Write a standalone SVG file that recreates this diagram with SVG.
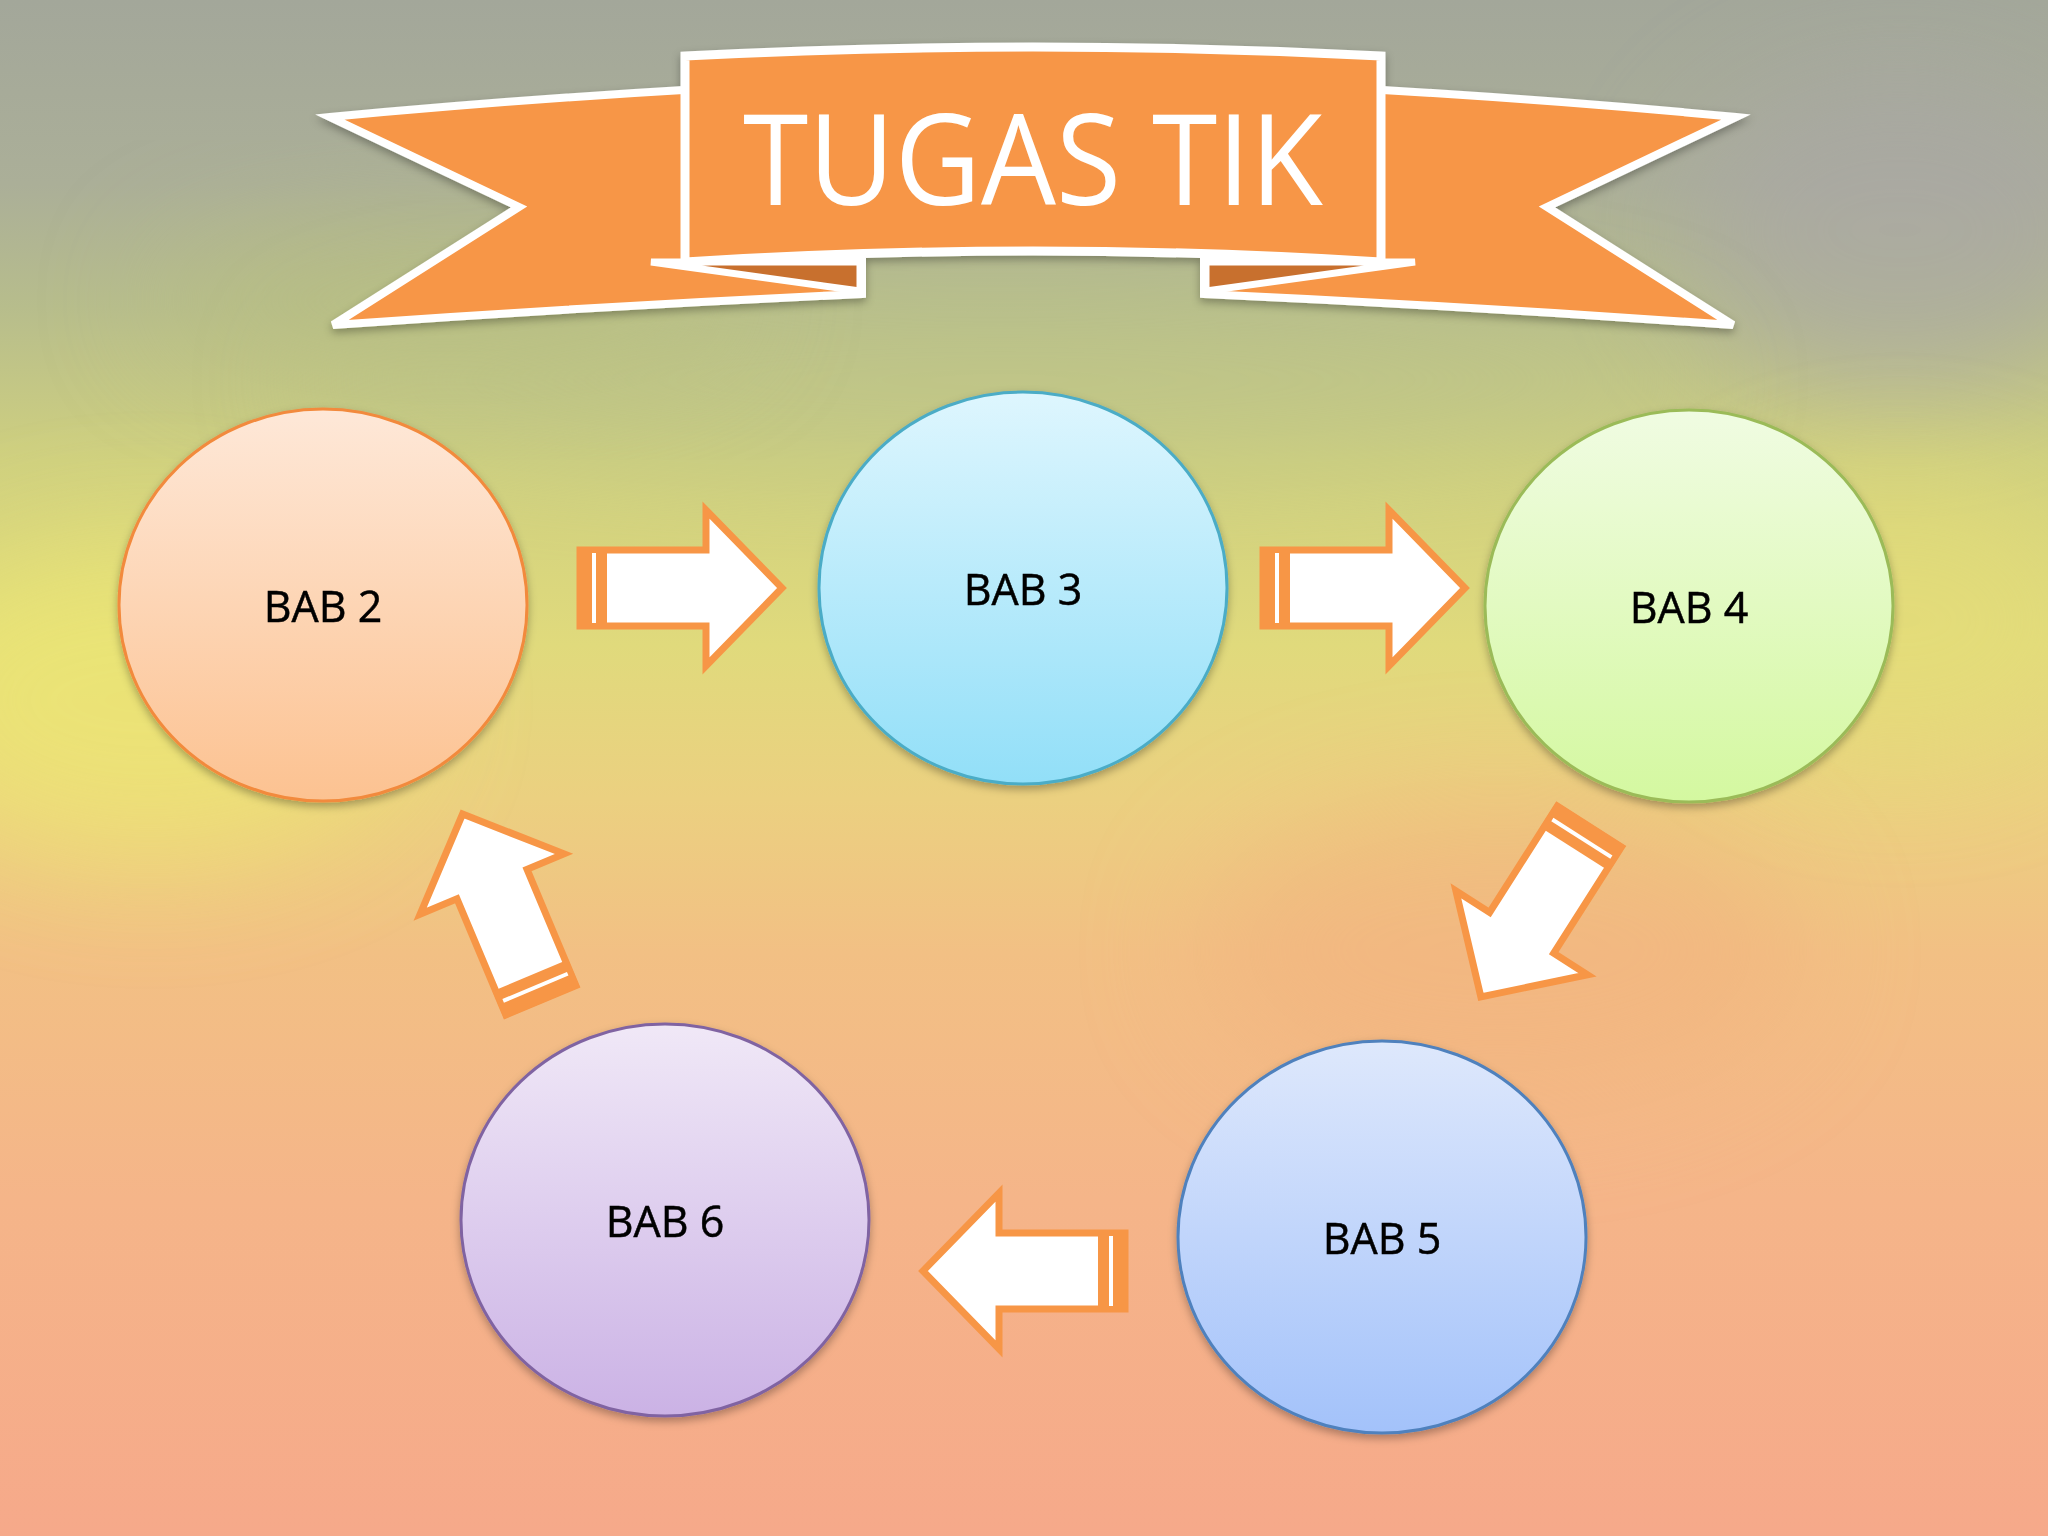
<svg xmlns="http://www.w3.org/2000/svg" width="2048" height="1536" viewBox="0 0 2048 1536">
<defs>
<linearGradient id="bg" x1="0" y1="0" x2="0" y2="1">
<stop offset="0" stop-color="#A3A79A"/>
<stop offset="0.12" stop-color="#ABAF98"/>
<stop offset="0.2" stop-color="#B7BD8C"/>
<stop offset="0.3" stop-color="#CFD07F"/>
<stop offset="0.42" stop-color="#E0DA7C"/>
<stop offset="0.52" stop-color="#EBD080"/>
<stop offset="0.62" stop-color="#F2C084"/>
<stop offset="0.78" stop-color="#F5B589"/>
<stop offset="1" stop-color="#F6A98A"/>
</linearGradient>
<filter id="blur" x="-50%" y="-50%" width="200%" height="200%"><feGaussianBlur stdDeviation="60"/></filter>
<filter id="shadow" x="-20%" y="-20%" width="140%" height="140%"><feDropShadow dx="0" dy="4" stdDeviation="4" flood-color="#000" flood-opacity="0.3"/></filter>
<linearGradient id="g2" x1="0" y1="0" x2="0" y2="1"><stop offset="0" stop-color="#FEE8D8"/><stop offset="1" stop-color="#FCC291"/></linearGradient>
<linearGradient id="g3" x1="0" y1="0" x2="0" y2="1"><stop offset="0" stop-color="#DEF6FE"/><stop offset="1" stop-color="#92DFF8"/></linearGradient>
<linearGradient id="g4" x1="0" y1="0" x2="0" y2="1"><stop offset="0" stop-color="#F0FCE2"/><stop offset="1" stop-color="#D4F8A0"/></linearGradient>
<linearGradient id="g5" x1="0" y1="0" x2="0" y2="1"><stop offset="0" stop-color="#DEE8FC"/><stop offset="1" stop-color="#A3C2FA"/></linearGradient>
<linearGradient id="g6" x1="0" y1="0" x2="0" y2="1"><stop offset="0" stop-color="#F0E8F7"/><stop offset="1" stop-color="#CBB2E5"/></linearGradient>
<g id="arrow">
<polygon points="3,-38 129,-38 129,-78 205,0 129,78 129,38 3,38" fill="#FFFFFF" stroke="#F79646" stroke-width="7" stroke-linejoin="miter"/>
<rect x="0" y="-41" width="30" height="82" fill="#F79646"/>
<rect x="15" y="-35" width="4" height="70" fill="#FFFFFF"/>
</g>
<g id="wing">
<path d="M330,117 Q510,100 700,89 L700,262 L862,262 L862,294 Q600,306 333,325 L519,207 Z" fill="#F79646" stroke="#FFFFFF" stroke-width="8" stroke-linejoin="miter"/>
<polygon points="651,262 860,262 860,291" fill="#C8702F" stroke="#FFFFFF" stroke-width="7" stroke-linejoin="miter"/>
</g>
</defs>
<style>
.label{font-family:"Open Sans","Liberation Sans",sans-serif;font-size:43px;font-weight:500;fill:#000000;stroke:#000000;stroke-width:0.5;text-anchor:middle}
.title{font-family:"Open Sans","Liberation Sans",sans-serif;font-size:126px;fill:#FFFFFF;text-anchor:middle}
</style>
<g id="background">
<rect x="0" y="0" width="2048" height="1536" fill="url(#bg)"/>
<ellipse cx="150" cy="700" rx="260" ry="160" fill="#EEE873" opacity="0.7" filter="url(#blur)"/>
<ellipse cx="1900" cy="230" rx="220" ry="160" fill="#A9A5A8" opacity="0.6" filter="url(#blur)"/>
<ellipse cx="1000" cy="380" rx="700" ry="90" fill="#BCC48A" opacity="0.5" filter="url(#blur)"/>
<ellipse cx="1900" cy="620" rx="200" ry="140" fill="#E6DE78" opacity="0.6" filter="url(#blur)"/>
<ellipse cx="1500" cy="950" rx="300" ry="150" fill="#F2B07E" opacity="0.5" filter="url(#blur)"/>
<ellipse cx="450" cy="300" rx="300" ry="80" fill="#B9C07E" opacity="0.5" filter="url(#blur)"/>
</g>
<g id="banner" filter="url(#shadow)">
<use href="#wing"/>
<use href="#wing" transform="translate(2066,0) scale(-1,1)"/>
<path d="M685,56 Q1033,38 1381,56 L1381,262 Q1033,240 685,262 Z" fill="#F79646" stroke="#FFFFFF" stroke-width="9"/>
<text class="title" x="1033" y="205" textLength="580" lengthAdjust="spacingAndGlyphs">TUGAS TIK</text>
</g>
<g id="node-bab2" filter="url(#shadow)">
<ellipse cx="323" cy="605" rx="204" ry="196" fill="url(#g2)" stroke="#F28A3C" stroke-width="3"/>
<text class="label" x="323" y="622">BAB 2</text>
</g>
<g id="node-bab3" filter="url(#shadow)">
<ellipse cx="1023" cy="588" rx="204" ry="196" fill="url(#g3)" stroke="#4BACC6" stroke-width="3"/>
<text class="label" x="1023" y="605">BAB 3</text>
</g>
<g id="node-bab4" filter="url(#shadow)">
<ellipse cx="1689" cy="606" rx="204" ry="196" fill="url(#g4)" stroke="#9BBB59" stroke-width="3"/>
<text class="label" x="1689" y="623">BAB 4</text>
</g>
<g id="node-bab5" filter="url(#shadow)">
<ellipse cx="1382" cy="1237" rx="204" ry="196" fill="url(#g5)" stroke="#4F81BD" stroke-width="3"/>
<text class="label" x="1382" y="1254">BAB 5</text>
</g>
<g id="node-bab6" filter="url(#shadow)">
<ellipse cx="665" cy="1220" rx="204" ry="196" fill="url(#g6)" stroke="#8064A2" stroke-width="3"/>
<text class="label" x="665" y="1237">BAB 6</text>
</g>
<g id="connectors">
<use href="#arrow" transform="translate(577,588)"/>
<use href="#arrow" transform="translate(1260,588)"/>
<use href="#arrow" transform="translate(1591,824) rotate(122.5)"/>
<use href="#arrow" transform="translate(1128,1271) rotate(180)"/>
<use href="#arrow" transform="translate(542,1003) rotate(-112.8)"/>
</g>
</svg>
